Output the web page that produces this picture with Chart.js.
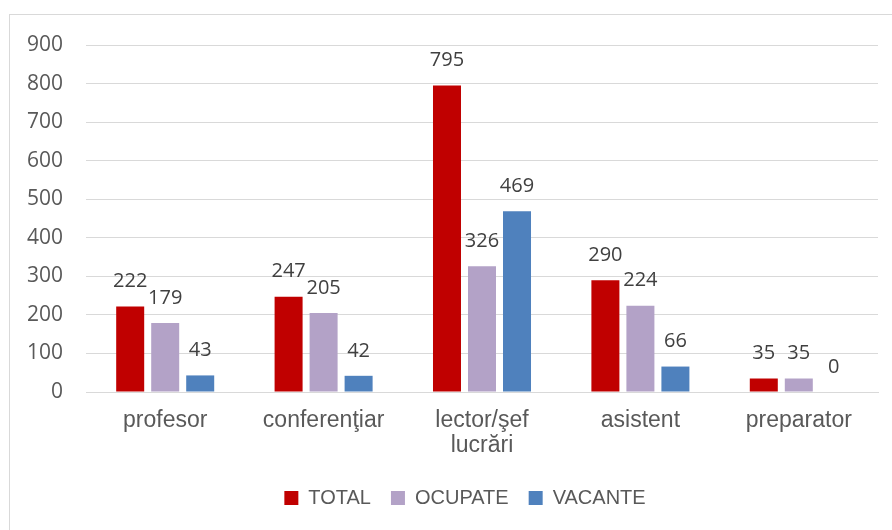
<!DOCTYPE html>
<html>
<head>
<meta charset="utf-8">
<script src="https://cdn.jsdelivr.net/npm/chart.js@4.4.0/dist/chart.umd.min.js"></script>
<style>
  body { margin: 0; background: #fff; }
  #wrap { width: 892px; height: 530px; position: relative; }
</style>
</head>
<body>
<div id="wrap"><canvas id="chart"></canvas></div>
<script>
// categories and series
const categories = ['profesor', 'conferenţiar', ['lector/şef', 'lucrări'], 'asistent', 'preparator'];
const totalValues = [222, 247, 795, 290, 35];
const ocupateValues = [179, 205, 326, 224, 35];
const vacanteValues = [43, 42, 469, 66, 0];
const yTicks = [0, 100, 200, 300, 400, 500, 600, 700, 800, 900];

// outer frame like the Excel chart area
const framePlugin = {
    id: 'frame',
    beforeDraw(chart) {
        const ctx = chart.ctx;
        ctx.save();
        ctx.fillStyle = '#ffffff';
        ctx.fillRect(0, 0, chart.width, chart.height);
        ctx.strokeStyle = '#d9d9d9';
        ctx.lineWidth = 1;
        ctx.strokeRect(9.5, 14.5, 1000, 1000);
        ctx.restore();
    }
};

// Excel centres the legend a bit right of the canvas middle
const legendShift = {
    id: 'legendShift',
    afterLayout(chart) {
        chart.legend.left += 26;
        chart.legend.right += 26;
    }
};

// value labels above each bar
const valueLabels = {
    id: 'valueLabels',
    afterDatasetsDraw(chart) {
        const ctx = chart.ctx;
        ctx.save();
        ctx.font = '20px "Open Sans", sans-serif';
        ctx.fillStyle = '#404040';
        ctx.textAlign = 'center';
        ctx.textBaseline = 'middle';
        chart.data.datasets.forEach((ds, i) => {
            chart.getDatasetMeta(i).data.forEach((bar, j) => {
                ctx.fillText(ds.data[j], bar.x, bar.y - 25);
            });
        });
        ctx.restore();
    }
};

new Chart(document.getElementById('chart'), {
    type: 'bar',
    data: {
        labels: categories,
        datasets: [
            { label: 'TOTAL', data: totalValues, backgroundColor: '#C00000' },
            { label: 'OCUPATE', data: ocupateValues, backgroundColor: '#B3A2C7' },
            { label: 'VACANTE', data: vacanteValues, backgroundColor: '#4F81BD' }
        ]
    },
    options: {
        responsive: true,
        maintainAspectRatio: false,
        animation: false,
        categoryPercentage: 0.663,
        barPercentage: 0.8,
        layout: { padding: { top: 45, right: 14, left: 0, bottom: 12 } },
        plugins: {
            legend: {
                position: 'bottom',
                labels: {
                    boxWidth: 14,
                    boxHeight: 14,
                    padding: 20,
                    color: '#595959',
                    font: { family: '"Liberation Sans", Arial, sans-serif', size: 20 }
                }
            },
            tooltip: { enabled: false }
        },
        scales: {
            x: {
                grid: { display: false, drawTicks: false },
                border: { color: '#d9d9d9' },
                ticks: {
                    color: '#595959',
                    padding: 16,
                    maxRotation: 0,
                    font: { family: '"Liberation Sans", Arial, sans-serif', size: 23, lineHeight: 1.1 }
                },
                afterFit(scale) { scale.height = 76; }
            },
            y: {
                min: 0,
                max: 900,
                afterBuildTicks(scale) { scale.ticks = yTicks.map(v => ({ value: v })); },
                grid: { color: '#d9d9d9', drawTicks: false },
                border: { display: false },
                ticks: {
                    color: '#595959',
                    padding: 23,
                    font: { family: '"Open Sans", sans-serif', size: 21 }
                },
                afterFit(scale) { scale.width = 86; }
            }
        }
    },
    plugins: [framePlugin, legendShift, valueLabels]
});
</script>
</body>
</html>
